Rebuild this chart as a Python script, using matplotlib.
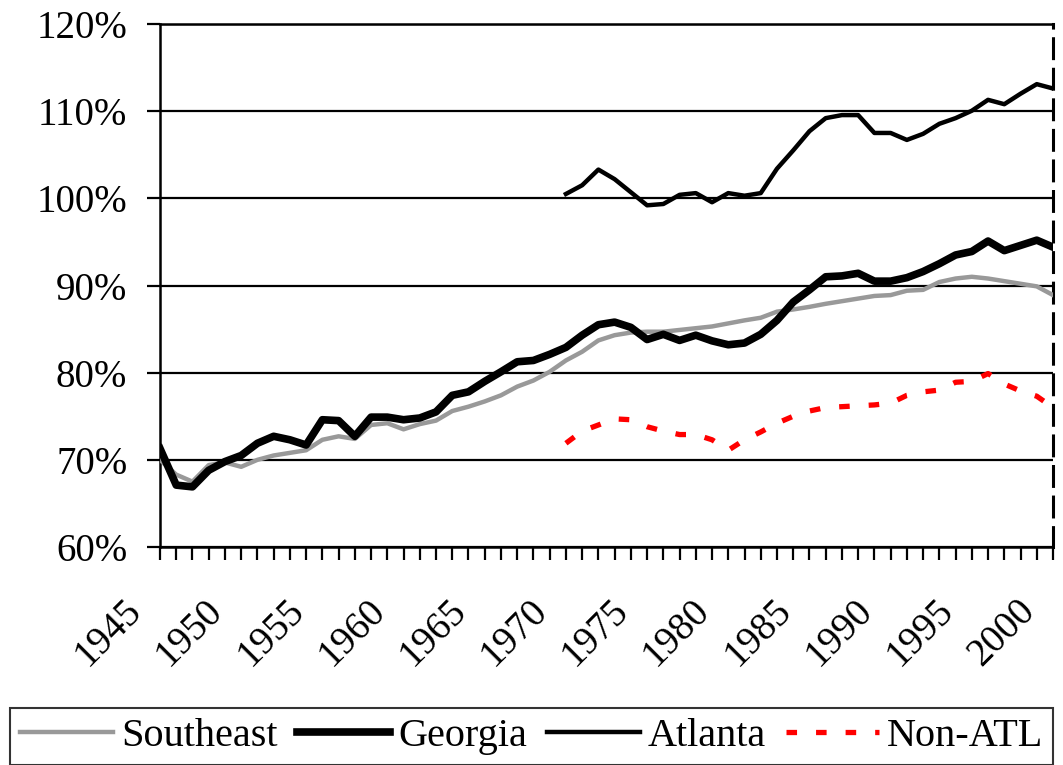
import numpy as np
import matplotlib.pyplot as plt
from matplotlib.transforms import ScaledTranslation

plt.rcParams['font.family'] = ['Liberation Serif', 'DejaVu Serif']

years = np.arange(1945, 2001)
southeast = [70.0, 68.3, 67.5, 69.4, 69.7, 69.2, 70.0, 70.5, 70.8, 71.1,
             72.3, 72.7, 72.4, 74.0, 74.2, 73.5, 74.1, 74.5, 75.6, 76.1,
             76.7, 77.4, 78.4, 79.1, 80.1, 81.4, 82.4, 83.7, 84.3, 84.6,
             84.7, 84.7, 84.9, 85.1, 85.3, 85.65, 86.0, 86.3, 87.0, 87.25,
             87.55, 87.9, 88.2, 88.5, 88.8, 88.9, 89.4, 89.5, 90.4, 90.8,
             91.0, 90.8, 90.5, 90.2, 89.9, 88.9]
georgia = [71.3, 67.1, 66.9, 68.8, 69.8, 70.5, 71.9, 72.7, 72.3, 71.7,
           74.6, 74.5, 72.7, 74.9, 74.9, 74.6, 74.8, 75.5, 77.4, 77.8,
           79.0, 80.1, 81.25, 81.4, 82.1, 82.9, 84.3, 85.5, 85.8, 85.2,
           83.8, 84.4, 83.7, 84.3, 83.65, 83.2, 83.4, 84.4, 86.0, 88.1,
           89.5, 91.0, 91.1, 91.4, 90.5, 90.5, 90.9, 91.6, 92.5, 93.5,
           93.9, 95.1, 94.0, 94.6, 95.2, 94.4]

atl_years = np.arange(1970, 2001)
atlanta = [100.5, 101.5, 103.3, 102.2, 100.7, 99.2, 99.35, 100.4, 100.6, 99.55,
           100.6, 100.3, 100.6, 103.4, 105.5, 107.7, 109.2, 109.55, 109.55, 107.5,
           107.5, 106.7, 107.4, 108.55, 109.2, 110.05, 111.3, 110.8, 112.0, 113.1,
           112.6]
non_atl = [71.9, 73.3, 74.0, 74.7, 74.6, 73.8, 73.3, 72.9, 72.9, 72.3,
           71.1, 72.3, 73.2, 74.2, 75.0, 75.6, 76.0, 76.1, 76.2, 76.3,
           76.5, 77.4, 77.8, 78.0, 78.9, 79.0, 79.9, 78.7, 77.9, 77.3,
           76.0]

fig = plt.figure(figsize=(10.63, 7.65), dpi=100)
ax = fig.add_axes([160/1063, 1-547/765, (1053-160)/1063, (547-24)/765])

ax.plot(years, southeast, color='#999999', lw=3.2, label='Southeast', zorder=3)
ax.plot(years, georgia, color='black', lw=5.5, label='Georgia', zorder=4)
ax.plot(atl_years, atlanta, color='black', lw=3.2, label='Atlanta', zorder=4)
ax.plot(atl_years, non_atl, color='red', lw=3.8, ls=(0, (2, 3.6)),
        label='Non-ATL', zorder=4)

ax.set_xlim(1945, 2000)
ax.set_ylim(60, 120)
ax.grid(axis='y', color='black', lw=1.6)
ax.set_axisbelow(True)
ax.tick_params(axis='both', direction='out', length=9.5, width=1.6,
               labelsize=28, color='black')
ax.tick_params(axis='y', pad=14)
ax.tick_params(axis='x', pad=23)

ax.set_yticks(np.arange(60, 121, 10))
ax.set_yticklabels(['%d%%' % v for v in range(60, 121, 10)])
ax.set_xticks(years)
ax.set_xticklabels([str(y) if y % 5 == 0 else '' for y in years],
                   rotation=45, ha='right', va='top', rotation_mode='anchor')
# shift rotated year labels left (set after tick_params, which resets them)
for lab in ax.get_xticklabels():
    lab.set_transform(lab.get_transform() +
                      ScaledTranslation(-0.37, 0, fig.dpi_scale_trans))

for s in ['left', 'bottom', 'top']:
    ax.spines[s].set_linewidth(1.8)
ax.spines['right'].set_linewidth(2.2)
ax.spines['right'].set_linestyle((0, (6.5, 3.5)))

leg = fig.legend(loc='upper left', bbox_to_anchor=(10/1063, 1-708/765),
                 ncol=4, fontsize=29, frameon=True, fancybox=False,
                 edgecolor='black', handlelength=2.3, handletextpad=0.2,
                 columnspacing=0.5, borderpad=0.25, borderaxespad=0)
leg.get_frame().set_linewidth(1.5)

fig.savefig('out.png', dpi=100)
